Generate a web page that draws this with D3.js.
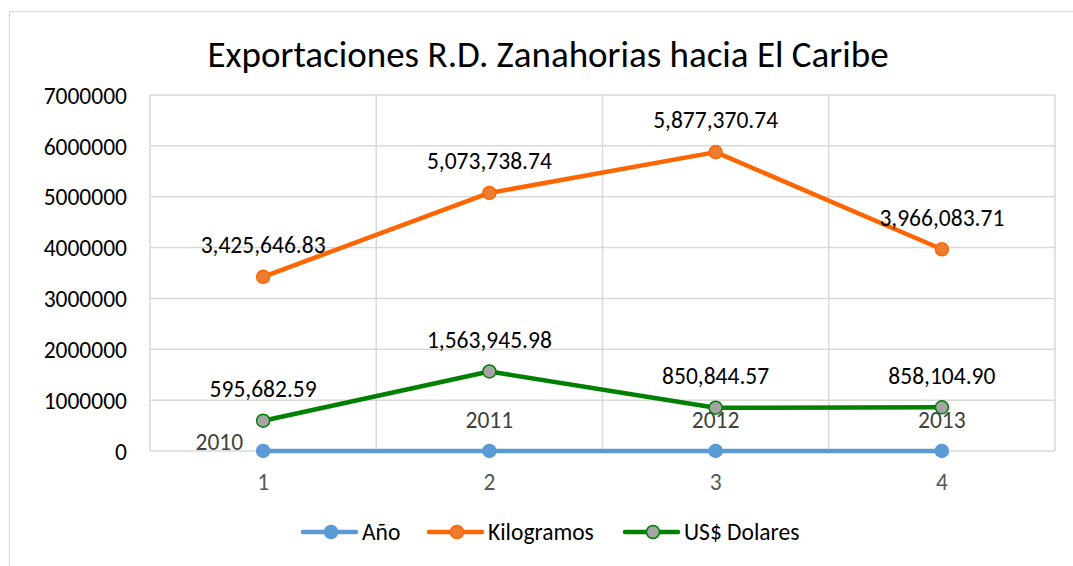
<!DOCTYPE html>
<html>
<head>
<meta charset="utf-8">
<script src="https://cdn.jsdelivr.net/npm/d3@7"></script>
<style>
  body { margin: 0; background: #fff; }
  text { font-family: Carlito, Calibri, Lato, sans-serif; }
</style>
</head>
<body>
<div id="cnt"></div>
<script>
let ancho = 1073;
let largo = 566;

// datos
let categorias = [1, 2, 3, 4];
let anios = [2010, 2011, 2012, 2013];
let kilos = [3425646.83, 5073738.74, 5877370.74, 3966083.71];
let dolares = [595682.59, 1563945.98, 850844.57, 858104.90];
let ticksY = [0, 1000000, 2000000, 3000000, 4000000, 5000000, 6000000, 7000000];
let nombres = ["Año", "Kilogramos", "US$ Dolares"];

let series = [
    { nombre: nombres[0], valores: anios, linea: "#5B9BD5", relleno: "#5B9BD5", borde: "#5B9BD5", etiq: anios.map(String) },
    { nombre: nombres[1], valores: kilos, linea: "#FF6600", relleno: "#ED7D31", borde: "#FF6600", etiq: kilos.map(d => d3.format(",.2f")(d)) },
    { nombre: nombres[2], valores: dolares, linea: "#008000", relleno: "#A5A5A5", borde: "#008000", etiq: dolares.map(d => d3.format(",.2f")(d)) }
];

let letra = "23.5px";

let svg = d3.select('#cnt')
    .append("svg")
    .attr('width', ancho)
    .attr('height', largo)

//Marco del grafico
svg.append("rect")
    .attr('x', 9.5)
    .attr('y', 11.5)
    .attr('width', ancho + 10)
    .attr('height', largo + 10)
    .style('fill', 'none')
    .style('stroke', '#d9d9d9')

let izq = 150, der = 1055, arr = 95, abj = 451;

let x = d3.scaleBand().domain(categorias).range([izq, der]);
let y = d3.scaleLinear().domain([0, 7000000]).range([abj, arr]);

//Rejilla horizontal
svg.append("g")
    .selectAll("line")
    .data(ticksY).enter()
    .append("line")
    .attr("x1", izq).attr("x2", der)
    .attr("y1", d => y(d)).attr("y2", d => y(d))
    .style("stroke", "#d9d9d9")
    .style("stroke-width", 1.5)

//Rejilla vertical
let vx = categorias.map(c => x(c)).concat([der]);
svg.append("g")
    .selectAll("line")
    .data(vx).enter()
    .append("line")
    .attr("x1", d => d).attr("x2", d => d)
    .attr("y1", arr).attr("y2", abj)
    .style("stroke", "#d9d9d9")
    .style("stroke-width", 1.5)

//Eje Y
let ejeY = svg.append("g")
    .attr("transform", "translate(" + (izq - 23) + ",0)")
    .call(d3.axisLeft(y).tickValues(ticksY).tickFormat(d3.format("d")).tickSize(0).tickPadding(0))
ejeY.select(".domain").remove();
ejeY.selectAll("text")
    .style("font-size", letra)
    .style("fill", "#000")
    .attr("dy", "0.35em")

//Eje X
let ejeX = svg.append("g")
    .attr("transform", "translate(0," + (abj + 31) + ")")
    .call(d3.axisBottom(x).tickSize(0))
ejeX.select(".domain").remove();
ejeX.selectAll("text")
    .style("font-size", letra)
    .style("fill", "#595959")
    .attr("dy", "0.35em")
    .attr("y", 0)

let cx = d => x(d) + x.bandwidth() / 2;

//Lineas
let linea = d3.line()
    .x((d, i) => cx(categorias[i]))
    .y(d => y(d));

series.forEach(function (s, k) {
    let g = svg.append("g");
    g.append("path")
        .datum(s.valores)
        .attr("d", linea)
        .style("fill", "none")
        .style("stroke", s.linea)
        .style("stroke-width", 4.5)
        .style("stroke-linejoin", "round")
    g.selectAll("circle")
        .data(s.valores).enter()
        .append("circle")
        .attr("cx", (d, i) => cx(categorias[i]))
        .attr("cy", d => y(d))
        .attr("r", 6.5)
        .style("fill", s.relleno)
        .style("stroke", s.borde)
        .style("stroke-width", 1.5)
    g.selectAll("text")
        .data(s.valores).enter()
        .append("text")
        .text((d, i) => s.etiq[i])
        .attr("x", (d, i) => k == 0 && i == 0 ? cx(categorias[i]) - 20 : cx(categorias[i]))
        .attr("y", (d, i) => k == 0 ? (i == 0 ? y(d) - 9 : y(d) - 31) : y(d) - 32)
        .attr("dy", "0.35em")
        .attr("text-anchor", (d, i) => k == 0 && i == 0 ? "end" : "middle")
        .style("font-size", letra)
        .style("fill", k == 0 ? "#404040" : "#000")
})

//Titulo
svg.append("text")
    .text("Exportaciones R.D. Zanahorias hacia El Caribe")
    .attr("x", 548)
    .attr("y", 67)
    .attr("text-anchor", "middle")
    .style("font-size", "37px")
    .style("fill", "#000")

//Leyenda
let ley = [303, 429, 625];
series.forEach(function (s, k) {
    let g = svg.append("g").attr("transform", "translate(" + ley[k] + ",532)");
    g.append("line")
        .attr("x1", 0).attr("x2", 53)
        .style("stroke", s.linea)
        .style("stroke-width", 4.5)
        .style("stroke-linecap", "round")
    g.append("circle")
        .attr("cx", 28).attr("r", 6.5)
        .style("fill", s.relleno)
        .style("stroke", s.borde)
        .style("stroke-width", 1.5)
    g.append("text")
        .text(s.nombre)
        .attr("x", 59)
        .attr("dy", "0.35em")
        .style("font-size", letra)
        .style("fill", "#000")
})
</script>
</body>
</html>
